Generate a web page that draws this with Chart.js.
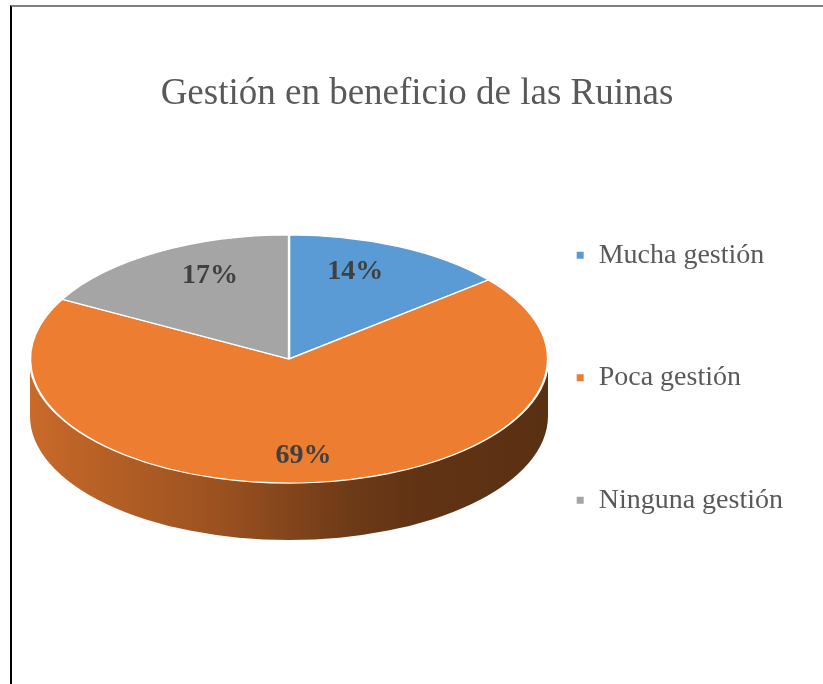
<!DOCTYPE html>
<html lang="es">
<head>
<meta charset="UTF-8">
<title>Gestión en beneficio de las Ruinas</title>
<script src="https://cdn.jsdelivr.net/npm/chart.js"></script>
<style>
  html, body { margin: 0; padding: 0; background: #fff; }
  #marco { position: absolute; left: 10px; top: 5px; width: 813px; height: 679px;
           border-top: 2px solid #7f7f7f; border-left: 2px solid #000; box-sizing: border-box; }
  #caja { position: absolute; left: 0; top: 0; width: 823px; height: 684px; }
</style>
</head>
<body>
<div id="marco"></div>
<div id="caja"><canvas id="grafico"></canvas></div>
<script>
// Datos
const titulo = 'Gestión en beneficio de las Ruinas';
const categorias = ['Mucha gestión', 'Poca gestión', 'Ninguna gestión'];
const porcentajes = [14, 69, 17];

// Geometría del pastel inclinado (posición en la página)
const PIE = { cx: 289, cy: 359, rx: 259, incl: 0.479, fondo: 57 };
const FUENTE = '"Liberation Serif", "Times New Roman", serif';

// Oscurece un color hex por un factor
function tono(hex, f) {
    const n = parseInt(hex.slice(1), 16);
    const r = Math.round(((n >> 16) & 255) * f);
    const g = Math.round(((n >> 8) & 255) * f);
    const b = Math.round((n & 255) * f);
    return 'rgb(' + r + ',' + g + ',' + b + ')';
}

let geo = null;

// Plugin: aplana el pastel y dibuja el canto
const pastel3D = {
    id: 'pastel3D',
    beforeDatasetsDraw(chart) {
        const arcs = chart.getDatasetMeta(0).data;
        if (!arcs.length) return;
        const ctx = chart.ctx;
        const ox = arcs[0].x, oy = arcs[0].y;
        const s = PIE.rx / arcs[0].outerRadius;
        const ry = PIE.rx * PIE.incl;
        geo = { ox, oy, s };

        ctx.save();
        // canto frontal de cada porción
        arcs.forEach(arc => {
            const lo = Math.max(arc.startAngle, 0);
            const hi = Math.min(arc.endAngle, Math.PI);
            if (hi <= lo) return;
            const base = arc.options.backgroundColor;
            const grad = ctx.createLinearGradient(PIE.cx - PIE.rx, 0, PIE.cx + PIE.rx, 0);
            [[0, .85], [.08, .8], [.37, .65], [.62, .46], [.75, .41], [1, .38]]
                .forEach(([t, f]) => grad.addColorStop(t, tono(base, f)));
            ctx.beginPath();
            ctx.ellipse(PIE.cx, PIE.cy, PIE.rx, ry, 0, lo, hi);
            ctx.ellipse(PIE.cx, PIE.cy + PIE.fondo, PIE.rx, ry, 0, hi, lo, true);
            ctx.closePath();
            ctx.fillStyle = grad;
            ctx.fill();
        });

        // la cara superior se dibuja aplanada
        ctx.translate(PIE.cx, PIE.cy);
        ctx.scale(s, s * PIE.incl);
        ctx.translate(-ox, -oy);
    },
    afterDatasetsDraw(chart) {
        const ctx = chart.ctx;
        ctx.restore();
        if (!geo) return;
        const arcs = chart.getDatasetMeta(0).data;
        ctx.save();
        ctx.font = 'bold 28px ' + FUENTE;
        ctx.fillStyle = '#404040';
        ctx.textAlign = 'center';
        ctx.textBaseline = 'middle';
        arcs.forEach((arc, i) => {
            const mid = (arc.startAngle + arc.endAngle) / 2;
            const r = arc.outerRadius;
            const x = PIE.cx + geo.s * Math.cos(mid) * r * 0.6;
            const y = PIE.cy + geo.s * PIE.incl * Math.sin(mid) * r * 0.78;
            ctx.fillText(porcentajes[i] + '%', x, y);
        });
        ctx.restore();
    }
};

new Chart(document.getElementById('grafico'), {
    type: 'pie',
    data: {
        labels: categorias,
        datasets: [{
            data: porcentajes,
            backgroundColor: ['#5B9BD5', '#ED7D31', '#A5A5A5'],
            borderColor: '#ffffff',
            borderWidth: 2,
            clip: false
        }]
    },
    options: {
        responsive: true,
        maintainAspectRatio: false,
        animation: false,
        events: [],
        layout: { padding: { top: 5, bottom: 60, right: 30, left: 41 } },
        plugins: {
            title: {
                display: true,
                text: titulo,
                color: '#595959',
                font: { family: FUENTE, size: 37, weight: 'normal' },
                padding: { top: 67, bottom: 15 }
            },
            legend: {
                position: 'right',
                fullSize: false,
                labels: {
                    color: '#595959',
                    font: { family: FUENTE, size: 28 },
                    boxWidth: 9,
                    boxHeight: 9,
                    padding: 94.5
                }
            },
            tooltip: { enabled: false }
        }
    },
    plugins: [pastel3D]
});
</script>
</body>
</html>
